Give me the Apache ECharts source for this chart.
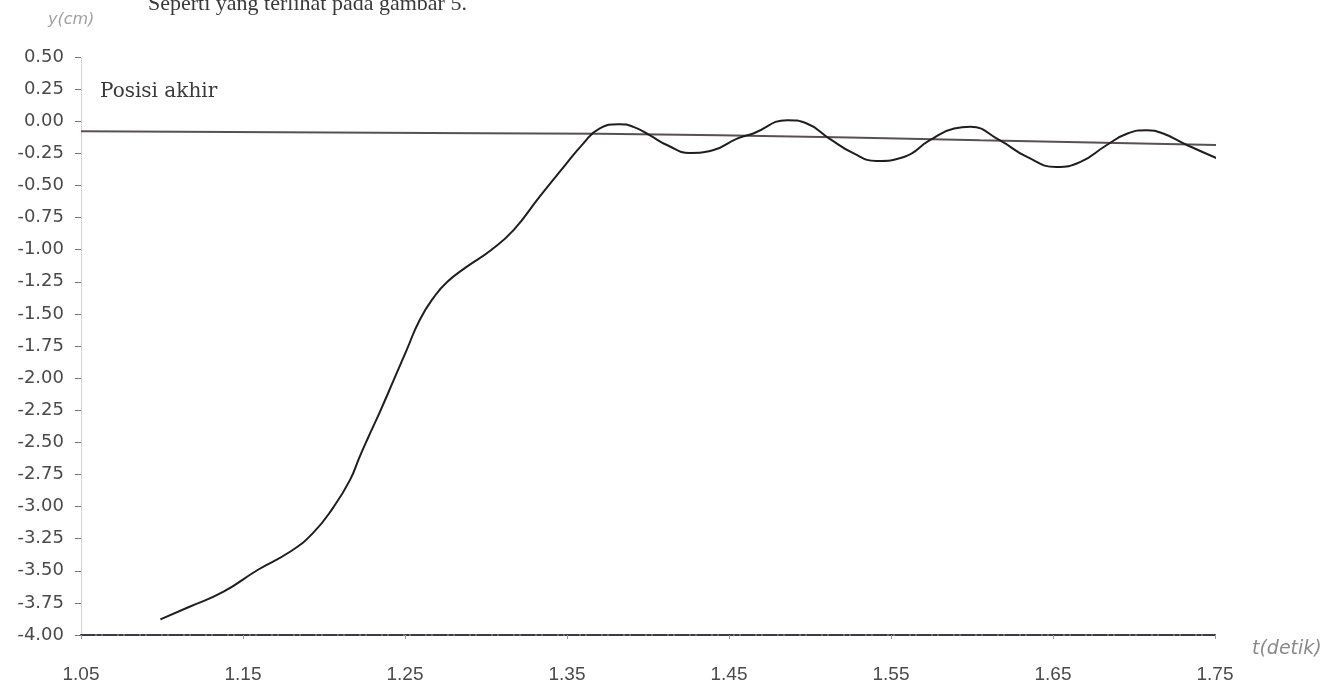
<!DOCTYPE html>
<html>
<head>
<meta charset="utf-8">
<script src="https://cdn.jsdelivr.net/npm/echarts@6/dist/echarts.min.js"></script>
<style>
  html, body { margin: 0; padding: 0; background: #ffffff; }
  #chart { width: 1332px; height: 696px; }
</style>
</head>
<body>
<div id="chart"></div>
<script>
// ---- data ----
const xTickValues = [1.05, 1.15, 1.25, 1.35, 1.45, 1.55, 1.65, 1.75];
const yTickValues = [-4.0, -3.75, -3.5, -3.25, -3.0, -2.75, -2.5, -2.25, -2.0, -1.75, -1.5, -1.25, -1.0, -0.75, -0.5, -0.25, 0.0, 0.25, 0.5];

// response curve y(t)
const curveT = [1.099, 1.117, 1.138, 1.159, 1.179, 1.193, 1.206, 1.216, 1.222, 1.227, 1.235, 1.243, 1.251, 1.259, 1.268, 1.276, 1.288, 1.303, 1.317, 1.333, 1.348, 1.360, 1.370, 1.382, 1.391, 1.401, 1.412, 1.426, 1.440, 1.455, 1.465, 1.486, 1.498, 1.512, 1.527, 1.541, 1.558, 1.574, 1.589, 1.599, 1.617, 1.634, 1.652, 1.667, 1.683, 1.696, 1.708, 1.718, 1.733, 1.753];
const curveY = [-3.878, -3.780, -3.663, -3.494, -3.352, -3.209, -3.002, -2.794, -2.613, -2.470, -2.249, -2.016, -1.782, -1.549, -1.367, -1.251, -1.134, -1.004, -0.848, -0.589, -0.356, -0.174, -0.057, -0.023, -0.044, -0.109, -0.187, -0.247, -0.226, -0.135, -0.096, 0.008, -0.018, -0.135, -0.251, -0.309, -0.278, -0.148, -0.057, -0.044, -0.148, -0.278, -0.356, -0.317, -0.187, -0.096, -0.070, -0.096, -0.187, -0.298];

// "Posisi akhir" reference line
const finalT = [1.05, 1.296, 1.444, 1.605, 1.761];
const finalY = [-0.078, -0.093, -0.109, -0.148, -0.187];

const topText = 'Seperti yang terlihat pada gambar 5.';
const yName = 'y(cm)';
const xName = 't(detik)';
const lineLabel = 'Posisi akhir';

const zip = (a, b) => a.map((v, i) => [v, b[i]]);

const chart = echarts.init(document.getElementById('chart'), null, { renderer: 'canvas' });
chart.setOption({
  animation: false,
  backgroundColor: '#ffffff',
  grid: { left: 81, right: 117, top: 57, bottom: 61, containLabel: false },
  xAxis: {
    type: 'value',
    min: 1.05,
    max: 1.75,
    splitLine: { show: false },
    axisLine: { show: true, onZero: false, lineStyle: { color: '#3c3a48', width: 2, type: [14, 2, 4, 2] } },
    axisTick: { show: true, length: 4, customValues: xTickValues, lineStyle: { color: '#999' } },
    axisLabel: {
      customValues: xTickValues,
      formatter: v => v.toFixed(2),
      margin: 30,
      color: '#4a4a4a',
      fontFamily: 'Liberation Sans',
      fontSize: 19
    }
  },
  yAxis: {
    type: 'value',
    min: -4,
    max: 0.5,
    splitLine: { show: false },
    axisLine: { show: true, onZero: false, lineStyle: { color: '#c8c8c8', width: 1, type: 'dotted' } },
    axisTick: { show: true, length: 6, customValues: yTickValues, lineStyle: { color: '#777' } },
    axisLabel: {
      customValues: yTickValues,
      formatter: v => v.toFixed(2),
      margin: 17,
      color: '#4a4a4a',
      fontFamily: 'DejaVu Sans',
      fontSize: 18
    }
  },
  graphic: [
    { type: 'text', left: 148, top: -7, style: { text: topText, font: '22px "Liberation Serif"', fill: '#3a3a3a' } },
    { type: 'text', left: 48, top: 12, style: { text: yName, font: 'italic 16px "DejaVu Sans"', fill: '#a0a0a0' } },
    { type: 'text', left: 100, top: 82, style: { text: lineLabel, font: '20px "DejaVu Serif"', fill: '#3a3a3a' } },
    { type: 'text', left: 1252, top: 640, style: { text: xName, font: 'italic 19px "DejaVu Sans"', fill: '#8a8a8a' } }
  ],
  series: [
    {
      name: lineLabel,
      type: 'line',
      data: zip(finalT, finalY),
      showSymbol: false,
      smooth: true,
      clip: false,
      lineStyle: { color: '#5a5050', width: 2 },
      z: 2
    },
    {
      name: 'y',
      type: 'line',
      data: zip(curveT, curveY),
      showSymbol: false,
      smooth: 0.5,
      clip: false,
      lineStyle: { color: '#1e1e1e', width: 2 },
      z: 3
    }
  ]
});
</script>
</body>
</html>
